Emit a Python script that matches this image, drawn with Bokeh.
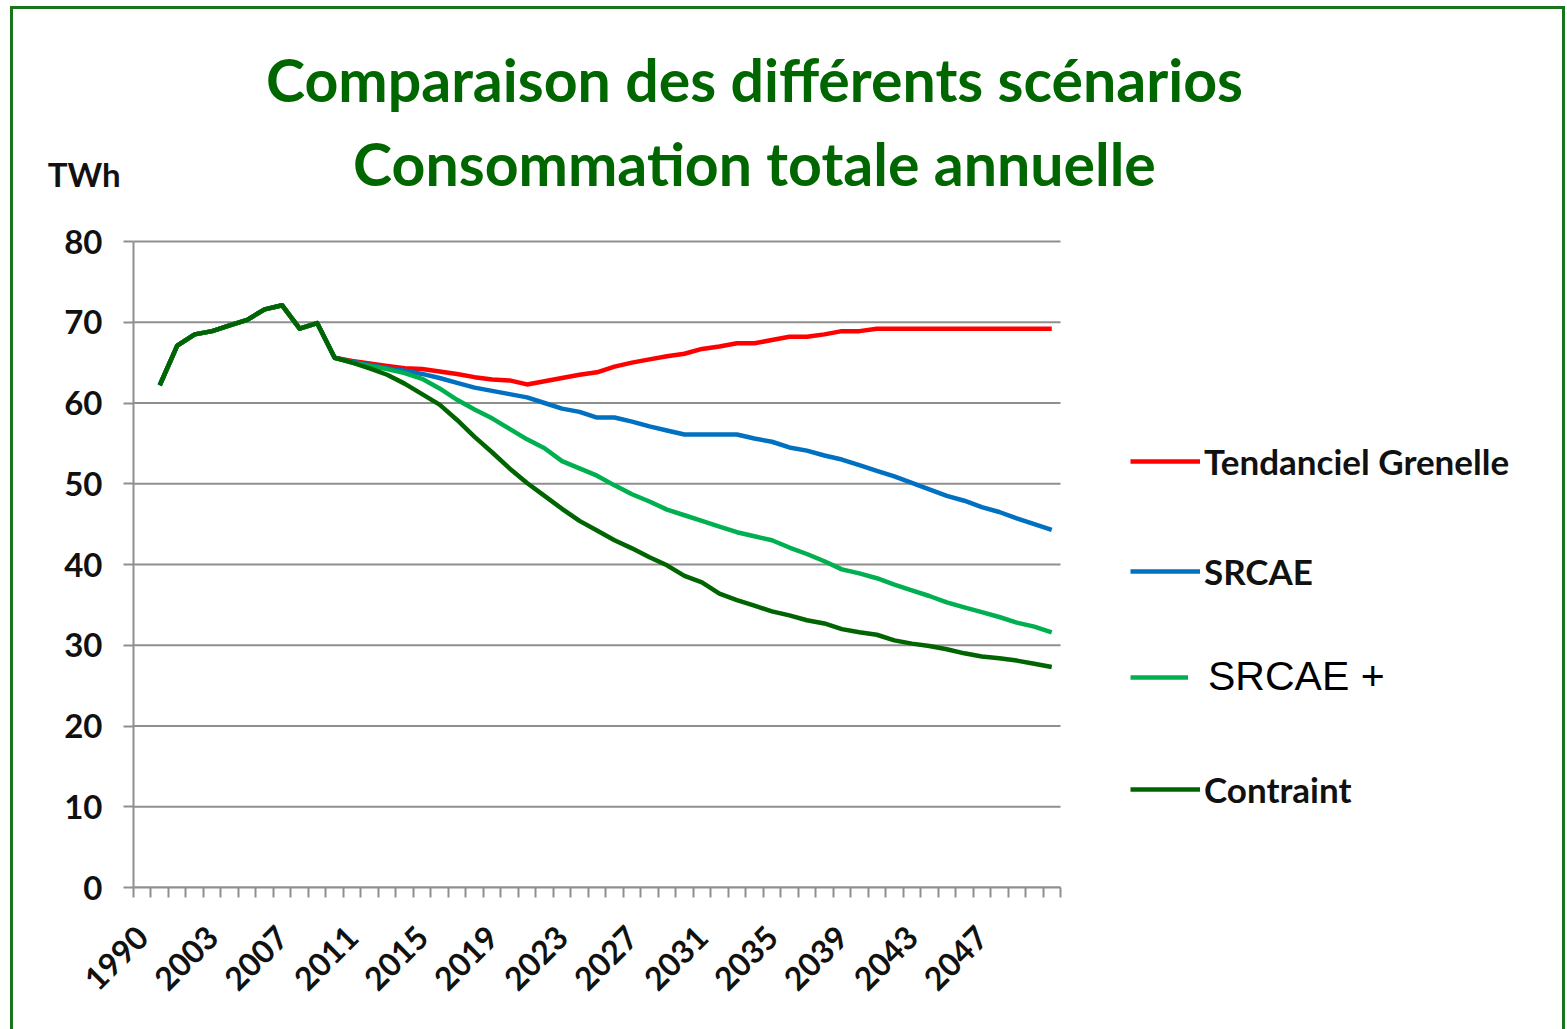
import math
from bokeh.plotting import figure
from bokeh.models import Range1d, FixedTicker, Legend, LegendItem, Label, LinearAxis
from bokeh.embed import file_html
from bokeh.resources import INLINE

# ---------------- data ----------------
years = ["1990"] + [str(y) for y in range(2000, 2052)]
label_every = 4

history = [62.2, 67.1, 68.5, 68.9, 69.6, 70.3, 71.6, 72.1, 69.2, 69.9, 65.6]  # 2000-2010

tendanciel = [65.2, 64.9, 64.6, 64.3, 64.2, 63.9, 63.6, 63.2, 62.9, 62.8,
              62.3, 62.7, 63.1, 63.5, 63.8, 64.5, 65.0, 65.4, 65.8, 66.1,
              66.7, 67.0, 67.4, 67.4, 67.8, 68.2, 68.2, 68.5, 68.9, 68.9,
              69.2, 69.2, 69.2, 69.2, 69.2, 69.2, 69.2, 69.2, 69.2, 69.2, 69.2]
srcae = [65.1, 64.7, 64.3, 64.0, 63.6, 63.1, 62.5, 61.9, 61.5, 61.1,
         60.7, 60.0, 59.3, 58.9, 58.2, 58.2, 57.7, 57.1, 56.6, 56.1,
         56.1, 56.1, 56.1, 55.6, 55.2, 54.5, 54.1, 53.5, 53.0, 52.3,
         51.6, 50.9, 50.1, 49.3, 48.5, 47.9, 47.1, 46.5, 45.7, 45.0, 44.3]
srcae_plus = [65.0, 64.6, 64.2, 63.7, 63.0, 61.8, 60.4, 59.2, 58.1, 56.8,
              55.5, 54.4, 52.8, 51.9, 51.0, 49.8, 48.7, 47.8, 46.8, 46.1,
              45.4, 44.7, 44.0, 43.5, 43.0, 42.1, 41.3, 40.4, 39.4, 38.9,
              38.3, 37.5, 36.8, 36.1, 35.3, 34.7, 34.1, 33.5, 32.8, 32.3, 31.6]
contraint = [65.0, 64.3, 63.5, 62.4, 61.1, 59.8, 57.9, 55.8, 53.9, 51.9,
             50.1, 48.5, 46.9, 45.4, 44.2, 43.0, 42.0, 40.9, 39.9, 38.6,
             37.8, 36.4, 35.6, 34.9, 34.2, 33.7, 33.1, 32.7, 32.0, 31.6,
             31.3, 30.6, 30.2, 29.9, 29.5, 29.0, 28.6, 28.4, 28.1, 27.7, 27.3]

series_names = ["Tendanciel Grenelle", "SRCAE", "SRCAE +", "Contraint"]
series_values = [tendanciel, srcae, srcae_plus, contraint]
series_colors = ["#FF0000", "#0070C0", "#00B050", "#006400"]

y_ticks = [0, 10, 20, 30, 40, 50, 60, 70, 80]
y_max = 80
unit_label = "TWh"

# ---------------- layout constants ----------------
FONT = "Lato"
W, H = 1555, 1023          # canvas size
LEFT, BOTTOM = 120, 145    # side panels
PLOT_W, PLOT_H = 927, 646  # pixel size of the charted area inside the frame
frame_w = W - LEFT
frame_h = H - BOTTOM

n = len(years)
xc = [i + 0.5 for i in range(n)]

p = figure(width=W, height=H, output_backend="svg", toolbar_location=None,
           x_range=Range1d(0, n * frame_w / PLOT_W),
           y_range=Range1d(0, y_max * frame_h / PLOT_H),
           min_border_left=LEFT, min_border_right=0,
           min_border_top=0, min_border_bottom=BOTTOM)
p.styles = {"margin-left": "10px", "margin-top": "6px",
            "border-top": "3px solid #1a751a", "border-left": "3px solid #1a751a",
            "border-right": "3px solid #1a751a"}
p.outline_line_color = None
p.background_fill_color = "white"
p.border_fill_color = "white"
p.xgrid.visible = False
p.ygrid.visible = False

grid_col = "#8f8f8f"
# horizontal grid lines limited to the charted area
p.segment(x0=[0] * len(y_ticks), x1=[n] * len(y_ticks), y0=y_ticks, y1=y_ticks,
          line_color=grid_col, line_width=2)

renderers = []
for name, vals, col in zip(series_names, series_values, series_colors):
    ys = [float("nan")] + history + vals
    r = p.line(xc, ys, line_color=col, line_width=4.5, line_join="round")
    renderers.append(r)

# y axis
p.yaxis.bounds = (0, y_max)
p.yaxis.ticker = FixedTicker(ticks=y_ticks)
p.yaxis.axis_line_color = grid_col
p.yaxis.axis_line_width = 2
p.yaxis.major_tick_line_color = grid_col
p.yaxis.major_tick_line_width = 2
p.yaxis.major_tick_out = 10
p.yaxis.major_tick_in = 0
p.yaxis.minor_tick_line_color = None
p.yaxis.major_label_standoff = 21
p.yaxis.major_label_text_font = FONT
p.yaxis.major_label_text_font_style = "bold"
p.yaxis.major_label_text_font_size = "33px"
p.yaxis.major_label_text_color = "#111111"

# unit label drawn as the only label of an extra, line-less axis
twh_y = y_max * 714 / PLOT_H
unit_axis = LinearAxis(ticker=FixedTicker(ticks=[twh_y]),
                       major_label_overrides={twh_y: unit_label},
                       axis_line_color=None, major_tick_line_color=None,
                       minor_tick_line_color=None, major_label_standoff=-65,
                       major_label_text_font=FONT, major_label_text_font_style="bold",
                       major_label_text_font_size="33px", major_label_text_color="#111111")
p.add_layout(unit_axis, "left")

# x axis: ticks between categories, a label every 4 categories
label_pos = [i + 0.5 for i in range(0, n, label_every)][:-1]
p.xaxis.bounds = (0, n)
p.xaxis.ticker = FixedTicker(ticks=label_pos, minor_ticks=list(range(n + 1)))
p.xaxis.major_label_overrides = {i + 0.5: years[i] for i in range(0, n, label_every)}
p.xaxis.axis_line_color = grid_col
p.xaxis.axis_line_width = 2
p.xaxis.major_tick_line_color = None
p.xaxis.minor_tick_line_color = grid_col
p.xaxis.minor_tick_line_width = 2
p.xaxis.minor_tick_out = 10
p.xaxis.minor_tick_in = 0
p.xaxis.major_label_orientation = math.pi / 4
p.xaxis.major_label_standoff = 34
p.xaxis.major_label_text_font = FONT
p.xaxis.major_label_text_font_style = "bold"
p.xaxis.major_label_text_font_size = "32px"
p.xaxis.major_label_text_color = "#111111"

# titles (screen units relative to the frame's bottom-left)
title_col = "#006600"
p.add_layout(Label(x=621, y=808, x_units="screen", y_units="screen",
                   text="Comparaison des différents scénarios", text_align="center",
                   text_baseline="middle", text_font=FONT, text_font_style="bold",
                   text_font_size="59px", text_color=title_col))
p.add_layout(Label(x=621, y=724, x_units="screen", y_units="screen",
                   text="Consommation totale annuelle", text_align="center",
                   text_baseline="middle", text_font=FONT, text_font_style="bold",
                   text_font_size="59px", text_color=title_col))

# legends: one per entry, placed to the right of the charted area
legend_y = [405, 295, 187, 77]
for idx, (name, r) in enumerate(zip(series_names, renderers)):
    plus = name == "SRCAE +"
    lg = Legend(items=[LegendItem(label=name, renderers=[r])],
                location=(997, legend_y[idx]),
                padding=0, margin=0, spacing=0,
                border_line_color=None, background_fill_alpha=0,
                glyph_width=58 if plus else 70, glyph_height=40,
                label_height=40, label_standoff=20 if plus else 4,
                label_text_font="Liberation Sans" if plus else FONT,
                label_text_font_style="normal" if plus else "bold",
                label_text_font_size="41px" if plus else "35px",
                label_text_color="#000000" if plus else "#111111")
    p.add_layout(lg)

open("out.html", "w").write(file_html(p, INLINE))
